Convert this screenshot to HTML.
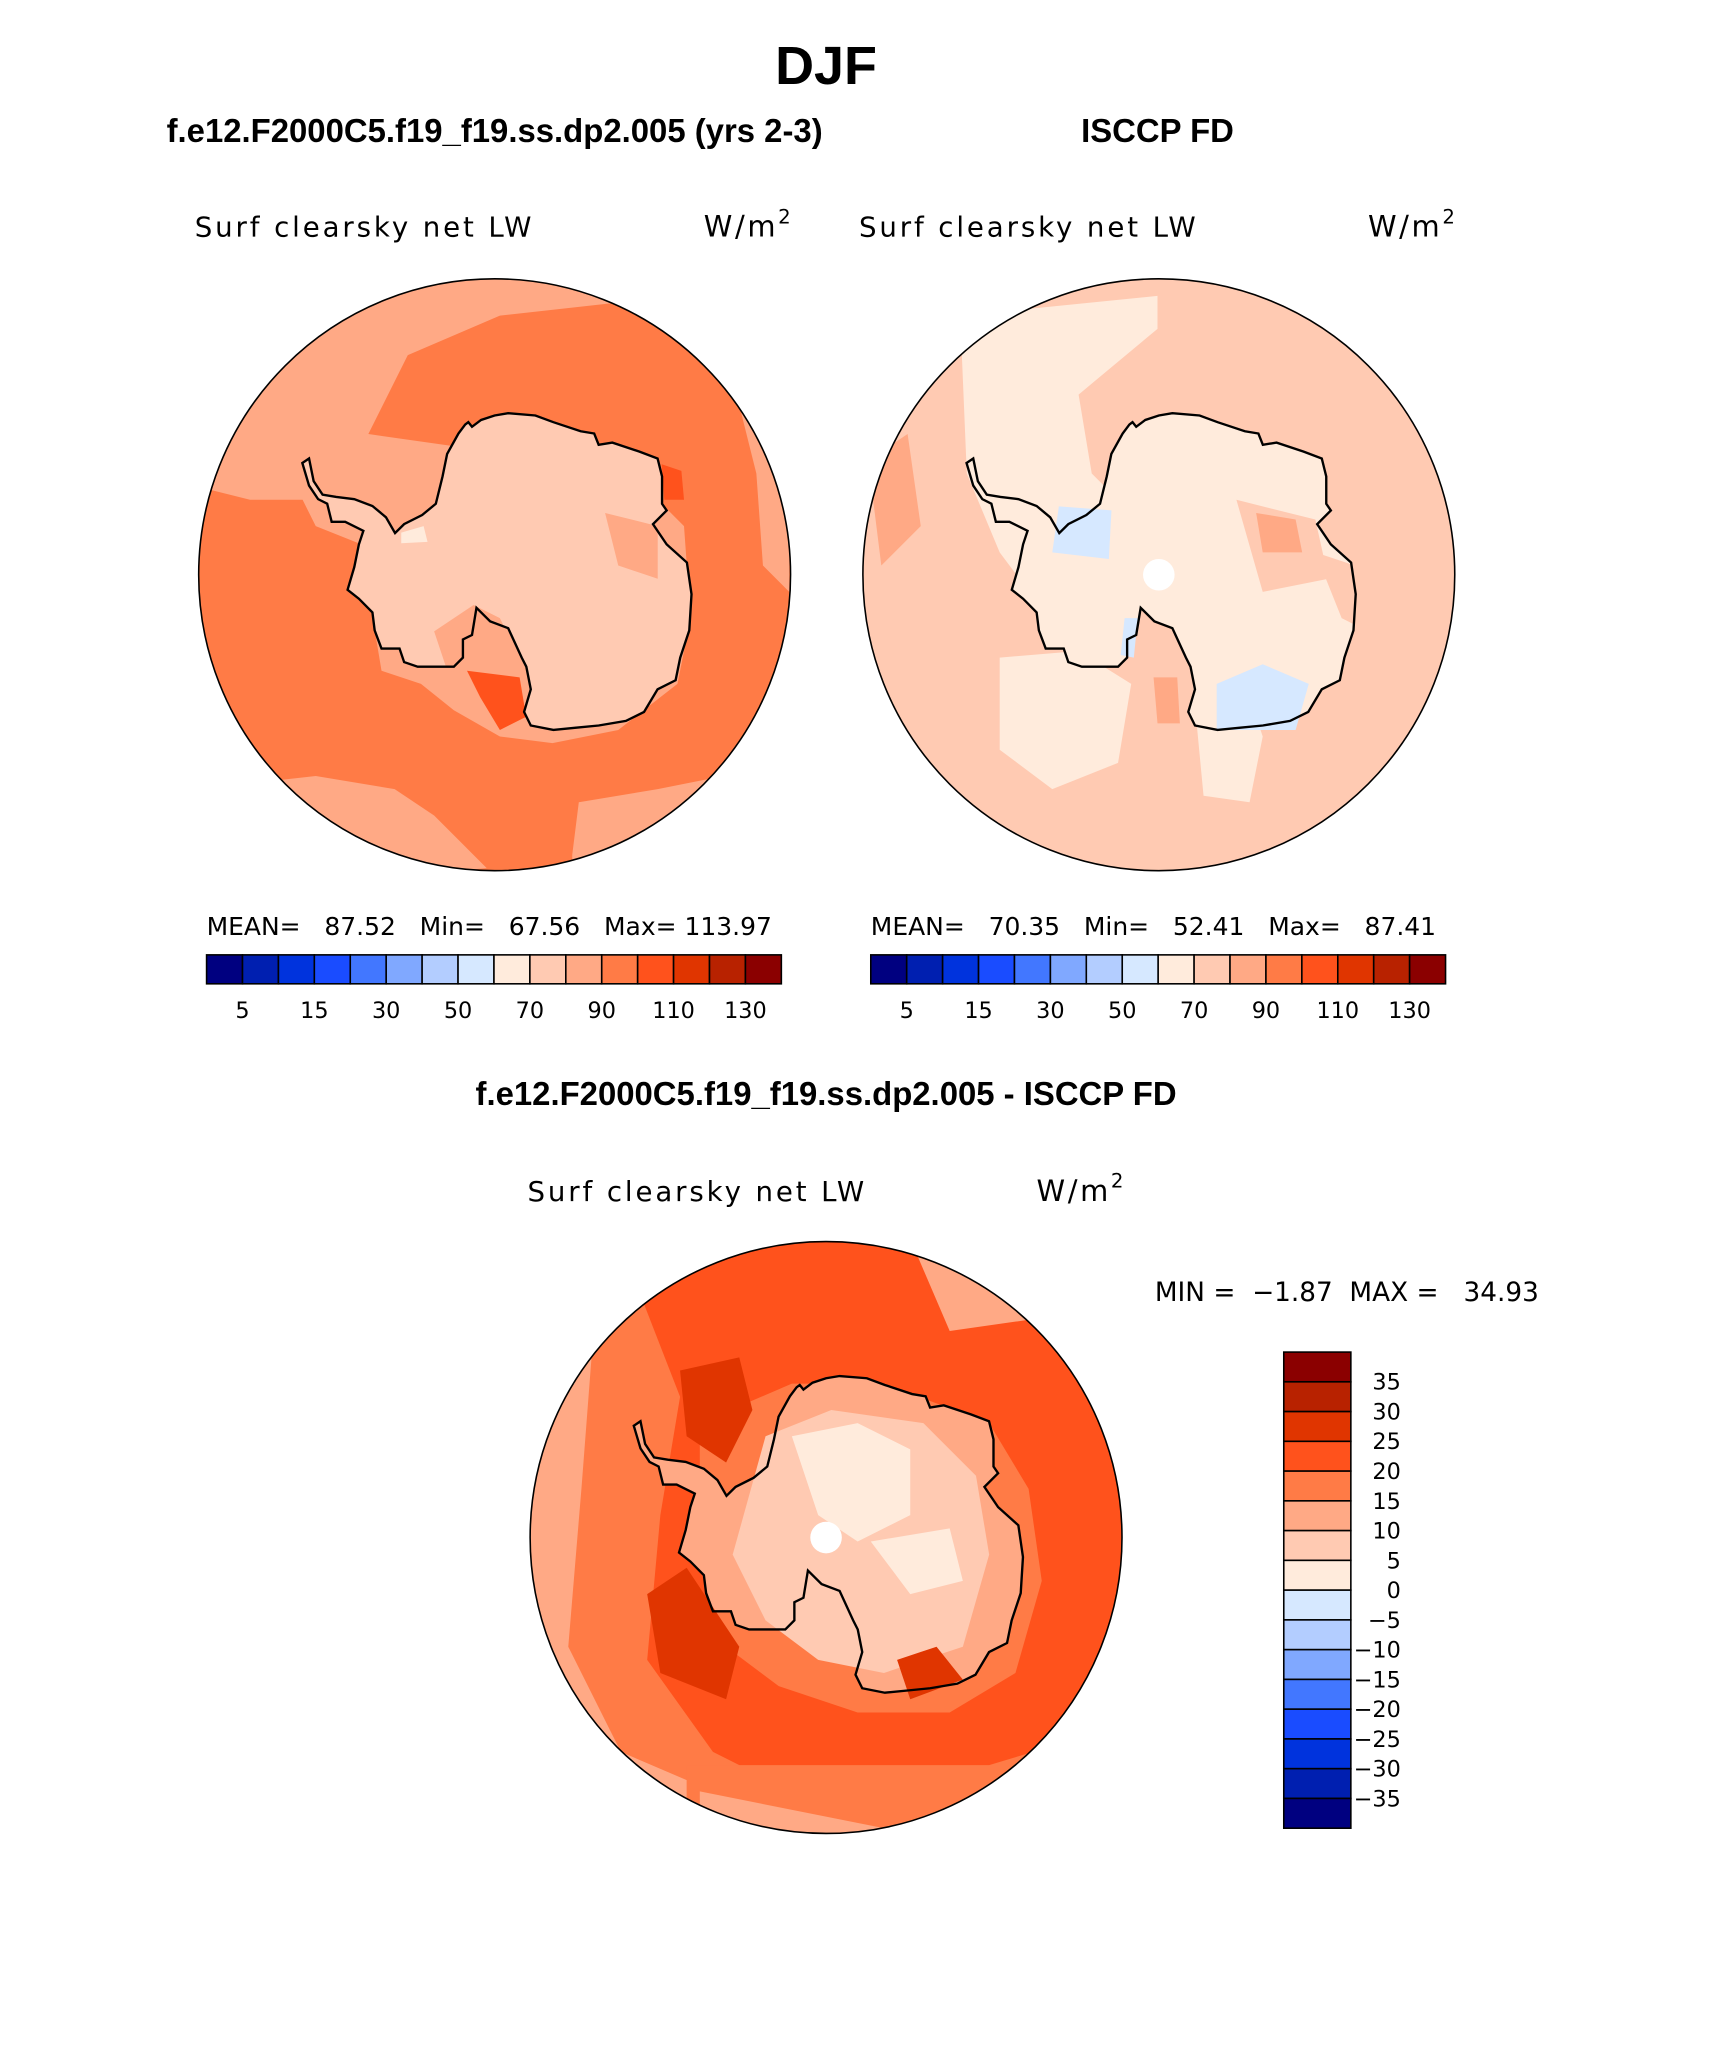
<!DOCTYPE html>
<html><head><meta charset="utf-8">
<style>
html,body{margin:0;padding:0;background:#fff;}
svg{display:block;}
.t{font-family:"Liberation Sans",sans-serif;font-weight:bold;fill:#000;}
.n{font-family:"DejaVu Sans","Liberation Sans",sans-serif;fill:#000;}
</style></head>
<body>
<svg id="fig" width="1710" height="2061" viewBox="0 0 1300 1567" xmlns="http://www.w3.org/2000/svg">
<text class="t" x="628" y="64" font-size="41" text-anchor="middle">DJF</text>
<text class="t" x="376" y="108" font-size="25" text-anchor="middle">f.e12.F2000C5.f19_f19.ss.dp2.005 (yrs 2-3)</text>
<text class="t" x="880" y="108" font-size="25" text-anchor="middle">ISCCP FD</text>
<text class="t" x="628" y="840" font-size="25" text-anchor="middle">f.e12.F2000C5.f19_f19.ss.dp2.005 - ISCCP FD</text>

<text class="n" x="148" y="180" font-size="21" letter-spacing="2.2">Surf clearsky net LW</text>
<text class="n" x="535" y="180" font-size="22" letter-spacing="2">W/m<tspan dy="-10" font-size="15">2</tspan></text>
<text class="n" x="653" y="180" font-size="21" letter-spacing="2.2">Surf clearsky net LW</text>
<text class="n" x="1040" y="180" font-size="22" letter-spacing="2">W/m<tspan dy="-10" font-size="15">2</tspan></text>
<text class="n" x="401" y="913" font-size="21" letter-spacing="2.2">Surf clearsky net LW</text>
<text class="n" x="788" y="913" font-size="22" letter-spacing="2">W/m<tspan dy="-10" font-size="15">2</tspan></text>

<text class="n" x="157" y="711" font-size="19" xml:space="preserve">MEAN=   87.52   Min=   67.56   Max= 113.97</text>
<text class="n" x="662" y="711" font-size="19" xml:space="preserve">MEAN=   70.35   Min=   52.41   Max=   87.41</text>
<text class="n" x="878" y="989" font-size="20" xml:space="preserve">MIN =  −1.87  MAX =   34.93</text>
<g id="maps"></g>
<g id="bars"></g>
</svg>
<script>
const palette=["#000080","#001fb0","#0033dd","#1a4cff","#4277ff","#80a8ff","#b3cdff","#d6e8ff","#ffebdc","#ffcab2","#ffa985","#ff7b46","#ff521c","#e03500","#b82200","#8b0000"];
const absLabels=["5","15","30","50","70","90","110","130"];
const diffLabels=["35","30","25","20","15","10","5","0","−5","−10","−15","−20","−25","−30","−35"];
const NS="http://www.w3.org/2000/svg";
function mk(tag,attrs,parent){const e=document.createElementNS(NS,tag);for(const k in attrs)e.setAttribute(k,attrs[k]);parent.appendChild(e);return e;}
const bars=document.getElementById('bars');
function hbar(x0,y0,w,h,name){
  const g=mk('g',{},bars);
  
  
  const bw=w/palette.length;
  palette.forEach((c,i)=>{const r=mk('rect',{x:x0+i*bw,y:y0,width:bw,height:h,fill:c,stroke:'#000','stroke-width':1.2},g);
    
    });
  absLabels.forEach((l,i)=>{const t=mk('text',{x:x0+(2*i+1)*bw,y:y0+h+26,'font-size':17,'text-anchor':'middle',class:'n'},g);t.textContent=l;
    
    });
}
hbar(157,726,437,22,'model-colorbar');
hbar(662,726,437,22,'obs-colorbar');
(function(){const g=mk('g',{},bars);
  
  
  const x0=976,y0=1028,w=51,bh=(1390-1028)/16;
  palette.slice().reverse().forEach((c,i)=>{const r=mk('rect',{x:x0,y:y0+i*bh,width:w,height:bh,fill:c,stroke:'#000','stroke-width':1.2},g);
    
    });
  diffLabels.forEach((l,i)=>{const t=mk('text',{x:1065,y:y0+(i+1)*bh+6,'font-size':17,'text-anchor':'end',class:'n'},g);t.textContent=l;
    
    });
})();

const coast=[[705,525],[712,520],[720,530],[740,515],[770,505],[800,500],[860,505],[900,520],[960,540],[990,545],[1000,570],[1030,565],[1090,585],[1130,600],[1140,640],[1140,700],[1150,715],[1120,745],[1150,790],[1195,830],[1205,900],[1200,980],[1180,1040],[1170,1090],[1130,1110],[1100,1160],[1060,1180],[1000,1190],[950,1195],[900,1200],[850,1190],[835,1160],[850,1110],[840,1060],[830,1040],[800,975],[760,960],[730,930],[720,990],[700,1000],[700,1040],[680,1060],[640,1060],[600,1060],[570,1050],[560,1020],[520,1020],[505,980],[500,940],[470,910],[445,890],[460,840],[470,790],[480,760],[440,740],[410,740],[400,700],[380,690],[360,660],[345,610],[360,600],[370,650],[390,680],[420,685],[460,690],[500,705],[530,730],[550,765],[570,745],[610,725],[640,700],[655,640],[665,590],[690,545]];
function coastPath(cx,cy){return 'M'+coast.map(p=>((p[0]-770)/2.906+cx).toFixed(1)+','+((p[1]-857)/2.906+cy).toFixed(1)).join('L')+'Z';}
function poly(pts,dx,dy){return 'M'+pts.map(p=>(p[0]+dx)+','+(p[1]+dy)).join('L')+'Z';}
const maps=document.getElementById('maps');
function drawMap(cx,cy,base,regions,name,hole,absolute){
  const g=mk('g',{},maps);
  
  
  const id='c'+name;
  const cp=mk('clipPath',{id:id},g);mk('circle',{cx:cx,cy:cy,r:225},cp);
  const inner=mk('g',{'clip-path':'url(#'+id+')'},g);
  mk('rect',{x:cx-230,y:cy-230,width:460,height:460,fill:base},inner);
  const dx=absolute?0:cx-376, dy=absolute?0:cy-437;
  regions.forEach(r=>{
    if(r.coast){mk('path',{d:coastPath(cx,cy),fill:r.c},inner);}
    else{mk('path',{d:poly(r.p,dx,dy),fill:r.c},inner);}
  });
  const cst=mk('path',{d:coastPath(cx,cy),fill:'none',stroke:'#000','stroke-width':1.8},g);
  
  
  if(hole){mk('circle',{cx:cx,cy:cy,r:12,fill:'#fff'},g);}
  const ring=mk('circle',{cx:cx,cy:cy,r:225,fill:'none',stroke:'#000','stroke-width':1.2},g);
  
  
}
const P=palette;
drawMap(376,437,P[11],[
 {c:P[10],p:[[150,200],[600,200],[600,300],[560,250],[470,230],[380,240],[310,270],[280,330],[350,340],[330,390],[290,420],[240,400],[230,380],[190,380],[150,370]]},
 {c:P[10],p:[[560,300],[600,300],[600,450],[580,430],[575,360]]},
 {c:P[10],p:[[150,600],[240,590],[300,600],[330,620],[370,660],[150,680]]},
 {c:P[10],p:[[435,650],[440,610],[500,600],[550,590],[600,600],[600,680],[435,680]]},
 {c:P[10],p:[[290,430],[330,420],[350,390],[400,370],[480,360],[520,400],[525,470],[515,520],[470,555],[420,565],[380,560],[345,540],[320,520],[290,510],[285,480]]},
 {c:P[9],coast:true},
 {c:P[10],p:[[330,480],[360,460],[380,470],[400,510],[370,515],[340,510]]},
 {c:P[10],p:[[460,390],[500,400],[500,440],[470,430]]},
 {c:P[12],p:[[355,510],[395,515],[400,545],[380,555],[365,530]]},
 {c:P[12],p:[[503,353],[518,358],[520,380],[505,380]]},
 {c:P[8],p:[[305,405],[322,400],[325,412],[305,413]]}
],'model-map',false,false);
drawMap(881,437,P[9],[
 {c:P[8],p:[[730,240],[880,225],[880,250],[820,300],[830,360],[860,390],[880,440],[840,470],[790,460],[760,420],[735,360]]},
 {c:P[8],coast:true},
 {c:P[9],p:[[940,380],[1000,395],[1010,440],[960,450]]},
 {c:P[8],p:[[760,500],[820,495],[860,520],[850,580],[800,600],[760,570]]},
 {c:P[8],p:[[905,500],[940,500],[960,560],[950,610],[915,605]]},
 {c:P[10],p:[[660,350],[690,330],[700,400],[670,430]]},
 {c:P[10],p:[[955,390],[985,395],[990,420],[960,420]]},
 {c:P[10],p:[[877,515],[895,515],[897,550],[880,550]]},
 {c:P[9],p:[[1000,420],[1030,430],[1040,480],[1020,470]]},
 {c:P[7],p:[[805,385],[845,388],[843,425],[800,420]]},
 {c:P[7],p:[[925,520],[960,505],[995,520],[985,555],[925,555]]},
 {c:P[7],p:[[855,470],[865,470],[862,500],[852,498]]}
],'obs-map',true,true);
drawMap(628,1169,P[12],[
 {c:P[11],p:[[150,330],[190,250],[230,240],[265,330],[250,420],[240,530],[290,600],[330,620],[290,660],[150,660]]},
 {c:P[10],p:[[150,300],[170,260],[200,270],[190,400],[180,520],[220,600],[290,630],[300,680],[150,680]]},
 {c:P[11],p:[[270,610],[500,610],[600,580],[600,680],[270,680]]},
 {c:P[10],p:[[280,630],[430,660],[520,640],[600,600],[600,680],[280,680]]},
 {c:P[10],p:[[440,210],[520,230],[540,270],[470,280]]},
 {c:P[8],p:[[175,300],[185,300],[185,320],[175,320]]},
 {c:P[11],p:[[280,350],[350,320],[420,320],[500,350],[530,400],[540,470],[520,540],[470,570],[400,570],[340,550],[300,520],[280,460]]},
 {c:P[10],coast:true},
 {c:P[9],p:[[330,360],[380,340],[450,350],[490,390],[500,450],[480,520],[420,540],[370,530],[330,500],[305,450]]},
 {c:P[8],p:[[350,360],[400,350],[440,370],[440,420],[400,440],[370,420]]},
 {c:P[8],p:[[410,440],[470,430],[480,470],[440,480]]},
 {c:P[13],p:[[265,310],[310,300],[320,340],[300,380],[270,360]]},
 {c:P[13],p:[[240,480],[270,460],[310,520],[300,560],[250,540]]},
 {c:P[13],p:[[430,530],[460,520],[480,545],[440,560]]}
],'diff-map',true,false);
</script>
</body></html>
